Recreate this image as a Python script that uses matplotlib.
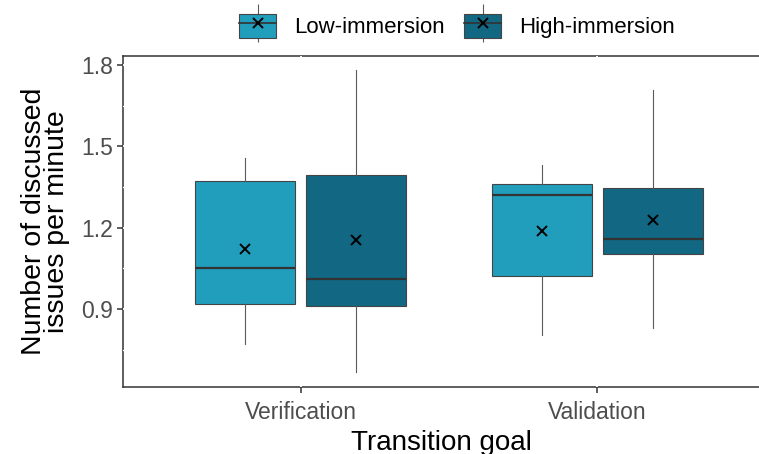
import matplotlib
matplotlib.use("Agg")
import matplotlib.pyplot as plt
from matplotlib.patches import Patch
from matplotlib.lines import Line2D
from matplotlib.legend_handler import HandlerTuple

plt.rcParams['font.family'] = ['Liberation Sans', 'DejaVu Sans']

# values (per group: whisker low, Q1, median, mean, Q3, whisker high)
goals = ['Verification', 'Validation']
groups = ['Low-immersion', 'High-immersion']
colors = ['#219ebc', '#126782']
whislo = {'Low-immersion': [0.773, 0.803], 'High-immersion': [0.668, 0.831]}
q1 = {'Low-immersion': [0.918, 1.022], 'High-immersion': [0.911, 1.102]}
med = {'Low-immersion': [1.053, 1.322], 'High-immersion': [1.012, 1.160]}
mean = {'Low-immersion': [1.123, 1.189], 'High-immersion': [1.153, 1.229]}
q3 = {'Low-immersion': [1.373, 1.362], 'High-immersion': [1.396, 1.348]}
whishi = {'Low-immersion': [1.458, 1.432], 'High-immersion': [1.782, 1.708]}

fig = plt.figure(figsize=(7.59, 4.54), dpi=100)
# panel is cut by the right edge of the image, so the axes stops there
ax = fig.add_axes([123/759, 67/454, (759-123)/759, (387-56)/454])

offsets = [-0.1875, 0.1875]
for g, off, col in zip(groups, offsets, colors):
    stats = []
    for i in range(len(goals)):
        stats.append(dict(whislo=whislo[g][i], q1=q1[g][i], med=med[g][i],
                          mean=mean[g][i], q3=q3[g][i], whishi=whishi[g][i], fliers=[]))
    pos = [i + 1 + off for i in range(len(goals))]
    ax.bxp(stats, positions=pos, widths=0.3375, patch_artist=True,
           showcaps=False, showfliers=False, showmeans=True,
           boxprops=dict(facecolor=col, edgecolor='#444444', linewidth=0.8),
           whiskerprops=dict(color='#5a5a5a', linewidth=0.8),
           medianprops=dict(color='#333333', linewidth=1.6),
           meanprops=dict(marker='x', markeredgecolor='black', markersize=7,
                          markeredgewidth=1.4, linestyle='none'),
           zorder=2)

ax.set_xlim(0.4, 0.4 + 2.2 * (759 - 123) / (775 - 123))
ax.set_ylim(0.613, 1.833)
ax.set_xticks([1, 2])
ax.set_xticklabels(goals)
ax.set_yticks([0.9, 1.2, 1.5, 1.8])
ax.set_yticklabels(['0.9', '1.2', '1.5', '1.8'])
ax.set_yticks([0.75, 1.05, 1.35, 1.65], minor=True)
ax.tick_params(axis='both', which='major', labelsize=16.5, colors='#333333',
               labelcolor='#4d4d4d', length=4, width=1.1)
ax.tick_params(axis='x', which='major', pad=6)
ax.tick_params(axis='y', which='major', pad=3)
ax.tick_params(axis='y', which='minor', length=0)

# white grid drawn over the panel border, under the boxes
ax.set_axisbelow(True)
ax.grid(True, which='major', color='white', linewidth=1.3)
ax.grid(True, which='minor', axis='y', color='white', linewidth=0.9)
for s in ax.spines.values():
    s.set_color('#333333')
    s.set_linewidth(1.1)
    s.set_zorder(0.2)
ax.spines['right'].set_visible(False)

ax.set_xlabel('Transition goal', fontsize=20, labelpad=4.5)
ax.set_ylabel('Number of discussed\nissues per minute', fontsize=20.5,
              linespacing=0.85, labelpad=8)

handles = []
for col in colors:
    wh = Line2D([], [], marker='|', markersize=27, markeredgewidth=0.8,
                color='#5a5a5a', linestyle='none')
    bx = Patch(facecolor=col, edgecolor='#444444', linewidth=0.8)
    md = Line2D([], [], color='#333333', linewidth=1.2)
    mk = Line2D([], [], marker='x', color='black', markersize=7,
                markeredgewidth=1.4, linestyle='none')
    handles.append((wh, bx, md, mk))

fig.legend(handles, groups, loc='center', bbox_to_anchor=(457/759, 1 - 26/454),
           ncol=2, frameon=False, fontsize=16, numpoints=1,
           handler_map={tuple: HandlerTuple(ndivide=1, pad=0)},
           handlelength=1.66, handleheight=1.3, handletextpad=0.8,
           columnspacing=0.9)

fig.savefig('out.png', dpi=100, bbox_inches=None)
